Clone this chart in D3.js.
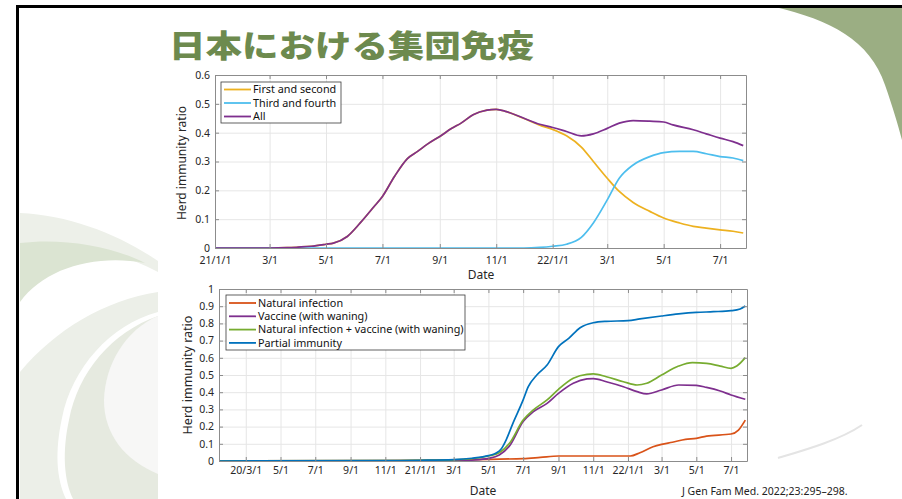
<!DOCTYPE html>
<html><head><meta charset="utf-8">
<script src="https://cdn.jsdelivr.net/npm/d3@7"></script>
<style>body{margin:0;background:#fff;}svg{display:block;}</style>
</head><body><svg id="c" width="902" height="499"></svg>
<script>
// ---------- DATA ----------
const titleText = "日本における集団免疫";
const citation = "J Gen Fam Med. 2022;23:295–298.";

// Top chart
const topTickDates = ["2021-01-01","2021-03-01","2021-05-01","2021-07-01","2021-09-01","2021-11-01","2022-01-01","2022-03-01","2022-05-01","2022-07-01"];
const topTickLabels = ["21/1/1","3/1","5/1","7/1","9/1","11/1","22/1/1","3/1","5/1","7/1"];
const topYTicks = [0,0.1,0.2,0.3,0.4,0.5,0.6];
const topSeriesNames = ["First and second","Third and fourth","All"];

const topAll = [
 ["2021-01-01",0],["2021-03-01",0],["2021-03-20",0.001],["2021-04-01",0.003],["2021-04-15",0.006],
 ["2021-05-01",0.013],["2021-05-09",0.017],["2021-05-24",0.040],["2021-06-07",0.087],["2021-06-22",0.144],
 ["2021-07-01",0.179],["2021-07-14",0.248],["2021-07-28",0.310],["2021-08-08",0.335],["2021-08-19",0.361],
 ["2021-09-01",0.387],["2021-09-14",0.415],["2021-09-24",0.433],["2021-10-07",0.462],["2021-10-22",0.478],
 ["2021-11-01",0.481],["2021-11-12",0.473],["2021-12-01",0.450],["2021-12-18",0.429],["2022-01-01",0.418],
 ["2022-01-16",0.404],["2022-02-01",0.389],["2022-02-14",0.396],["2022-03-01",0.415],["2022-03-14",0.433],
 ["2022-03-29",0.442],["2022-04-16",0.440],["2022-05-01",0.437],["2022-05-11",0.427],["2022-06-02",0.410],
 ["2022-06-16",0.396],["2022-07-01",0.381],["2022-07-15",0.369],["2022-07-26",0.355]
];
const topFirstSecond = [
 ["2021-01-01",0],["2021-03-01",0],["2021-03-20",0.001],["2021-04-01",0.003],["2021-04-15",0.006],
 ["2021-05-01",0.013],["2021-05-09",0.017],["2021-05-24",0.040],["2021-06-07",0.087],["2021-06-22",0.144],
 ["2021-07-01",0.179],["2021-07-14",0.248],["2021-07-28",0.310],["2021-08-08",0.335],["2021-08-19",0.361],
 ["2021-09-01",0.387],["2021-09-14",0.415],["2021-09-24",0.433],["2021-10-07",0.462],["2021-10-22",0.478],
 ["2021-11-01",0.481],["2021-11-12",0.473],["2021-12-01",0.449],["2021-12-18",0.426],["2022-01-01",0.411],
 ["2022-01-16",0.389],["2022-02-01",0.350],["2022-02-14",0.300],["2022-03-01",0.242],["2022-03-14",0.196],
 ["2022-03-29",0.158],["2022-04-16",0.127],["2022-05-01",0.104],["2022-05-18",0.087],["2022-06-02",0.075],
 ["2022-06-16",0.069],["2022-07-01",0.063],["2022-07-15",0.058],["2022-07-26",0.052]
];
const topThirdFourth = [
 ["2021-01-01",0],["2021-12-01",0],["2021-12-18",0.002],["2022-01-01",0.006],["2022-01-16",0.013],
 ["2022-02-01",0.037],["2022-02-14",0.087],["2022-03-01",0.167],["2022-03-14",0.242],["2022-03-29",0.288],
 ["2022-04-16",0.317],["2022-05-01",0.331],["2022-05-18",0.335],["2022-06-02",0.335],["2022-06-16",0.327],
 ["2022-07-01",0.317],["2022-07-15",0.312],["2022-07-26",0.303]
];

// Bottom chart
const botTickDates = ["2020-03-01","2020-05-01","2020-07-01","2020-09-01","2020-11-01","2021-01-01","2021-03-01","2021-05-01","2021-07-01","2021-09-01","2021-11-01","2022-01-01","2022-03-01","2022-05-01","2022-07-01"];
const botTickLabels = ["20/3/1","5/1","7/1","9/1","11/1","21/1/1","3/1","5/1","7/1","9/1","11/1","22/1/1","3/1","5/1","7/1"];
const botYTicks = [0,0.1,0.2,0.3,0.4,0.5,0.6,0.7,0.8,0.9,1];
const botSeriesNames = ["Natural infection","Vaccine (with waning)","Natural infection + vaccine (with waning)","Partial immunity"];

const botNatural = [
 ["2020-01-14",0],["2020-11-01",0.002],["2021-01-01",0.004],["2021-03-01",0.006],["2021-05-01",0.010],
 ["2021-07-01",0.014],["2021-07-31",0.021],["2021-09-01",0.029],["2021-11-01",0.029],["2022-01-05",0.029],
 ["2022-01-22",0.048],["2022-02-14",0.083],["2022-03-01",0.097],["2022-03-20",0.109],["2022-04-12",0.126],
 ["2022-05-01",0.132],["2022-05-19",0.145],["2022-07-01",0.157],["2022-07-14",0.180],["2022-07-26",0.238]
];
const botVaccine = [
 ["2020-01-14",0],["2021-01-01",0],["2021-03-01",0.001],["2021-04-02",0.005],["2021-05-01",0.015],
 ["2021-05-20",0.035],["2021-06-07",0.087],["2021-07-01",0.229],["2021-07-19",0.287],["2021-08-12",0.335],
 ["2021-09-01",0.393],["2021-09-27",0.452],["2021-10-21",0.477],["2021-11-01",0.479],["2021-11-24",0.461],
 ["2021-12-24",0.432],["2022-01-17",0.403],["2022-02-03",0.390],["2022-03-01",0.413],["2022-03-31",0.442],
 ["2022-05-01",0.440],["2022-05-19",0.428],["2022-06-12",0.407],["2022-07-01",0.384],["2022-07-26",0.359]
];
const botCombined = [
 ["2020-01-14",0],["2020-11-01",0.002],["2021-01-01",0.004],["2021-03-01",0.007],["2021-04-02",0.013],
 ["2021-05-01",0.029],["2021-05-20",0.048],["2021-06-07",0.103],["2021-07-01",0.238],["2021-07-19",0.297],
 ["2021-08-12",0.355],["2021-09-01",0.417],["2021-09-27",0.481],["2021-10-21",0.504],["2021-11-01",0.506],
 ["2021-11-24",0.490],["2021-12-24",0.461],["2022-01-17",0.442],["2022-02-03",0.452],["2022-03-01",0.500],
 ["2022-03-31",0.552],["2022-04-24",0.572],["2022-05-19",0.568],["2022-06-12",0.552],["2022-07-01",0.539],
 ["2022-07-11",0.552],["2022-07-26",0.601]
];
const botPartial = [
 ["2020-01-14",0],["2020-11-01",0.002],["2021-01-01",0.004],["2021-03-01",0.008],["2021-04-02",0.016],
 ["2021-05-01",0.031],["2021-05-14",0.045],["2021-05-23",0.068],["2021-06-01",0.122],["2021-06-13",0.219],
 ["2021-07-01",0.355],["2021-07-10",0.432],["2021-07-25",0.500],["2021-08-12",0.558],["2021-09-01",0.665],
 ["2021-09-19",0.713],["2021-10-09",0.775],["2021-11-01",0.804],["2021-11-24",0.812],["2022-01-01",0.816],
 ["2022-01-22",0.826],["2022-03-01",0.843],["2022-03-31",0.855],["2022-05-01",0.864],["2022-05-31",0.868],
 ["2022-07-01",0.874],["2022-07-17",0.884],["2022-07-26",0.901]
];

// ---------- DRAW ----------
const svg = d3.select("#c");
const P = d3.utcParse("%Y-%m-%d");
const FONT = "'Noto Sans CJK JP','Noto Sans',sans-serif";
const TICKFONT = "'Noto Sans',sans-serif";

// decorative slide background
const deco = svg.append("g");
deco.append("path").attr("d","M20,213 C70,215 120,235 158,261 L158,272 C120,252 80,244 20,243 Z").attr("fill","#edf0e9");
deco.append("path").attr("d","M20,243 C60,238 110,245 145,263 C95,254 45,268 20,302 Z").attr("fill","#dbe4d2");
deco.append("path").attr("d","M20,372 C55,330 105,300 158,292 L158,312 C110,325 72,368 62,418 C55,450 56,478 66,499 L20,499 Z").attr("fill","#ecefe8");
deco.append("path").attr("d","M158,316 C112,332 78,372 69,420 C62,452 64,480 73,499 L158,499 Z").attr("fill","#e6eae0");
deco.append("path").attr("d","M158,316 C125,330 105,365 104,400 C104,435 125,460 158,474 Z").attr("fill","#f7f7f6");
deco.append("path").attr("d","M775,7 C830,20 870,40 885,85 C893,108 898,125 902,140 L902,7 Z").attr("fill","#9bae83");
deco.append("path").attr("d","M778,458 C805,450 840,440 862,425").attr("fill","none").attr("stroke","#e4e4e4").attr("stroke-width",2);
// frame
svg.append("path").attr("d","M17.5,499 L17.5,6.5 L902,6.5").attr("fill","none").attr("stroke","#000").attr("stroke-width",3);

// title
svg.append("text").attr("x",169).attr("y",57).attr("transform","translate(0,57) scale(1,0.84) translate(0,-57)")
  .attr("font-family",FONT).attr("font-weight",900).attr("font-size",36.5).attr("fill","#6d8a4e").text(titleText);

// citation
svg.append("text").attr("x",682).attr("y",495).attr("font-family","'Noto Sans',sans-serif").attr("font-size",10.5)
  .attr("fill","#222").text(citation);

function chart(cfg){
  const g = svg.append("g");
  const x = d3.scaleUtc().domain(cfg.xDomain.map(P)).range([cfg.x0,cfg.x1]);
  const y = d3.scaleLinear().domain([0,cfg.yMax]).range([cfg.y1,cfg.y0]);
  const tv = cfg.tickDates.map(P);
  const fmtX = (d,i)=>cfg.tickLabels[i];
  const fmtY = d=> (d===0||d===1)? String(d) : d.toFixed(1);
  const W = cfg.x1-cfg.x0, H = cfg.y1-cfg.y0;
  // grid
  g.append("g").attr("transform",`translate(0,${cfg.y1})`)
    .call(d3.axisBottom(x).tickValues(tv).tickSize(-H).tickFormat(""))
    .call(a=>{a.select(".domain").remove();a.selectAll("line").attr("stroke","#e6e6e6");});
  g.append("g").attr("transform",`translate(${cfg.x0},0)`)
    .call(d3.axisLeft(y).tickValues(cfg.yTicks).tickSize(-W).tickFormat(""))
    .call(a=>{a.select(".domain").remove();a.selectAll("line").attr("stroke","#e6e6e6");});
  // lines
  const line = d3.line().x(d=>x(P(d[0]))).y(d=>y(d[1])).curve(d3.curveMonotoneX);
  cfg.series.forEach((s,i)=>{
    g.append("path").datum(s).attr("d",line).attr("fill","none")
      .attr("stroke",cfg.colors[i]).attr("stroke-width",1.7).attr("stroke-linejoin","round");
  });
  // axes (MATLAB box with inward ticks)
  const axCol = "#8c8c8c", txtCol = "#262626";
  const style = a=>{a.select(".domain").attr("stroke",axCol);a.selectAll(".tick line").attr("stroke",axCol);
    a.selectAll("text").attr("fill",txtCol).attr("font-family",TICKFONT).attr("font-size",cfg.tickFont);};
  g.append("g").attr("transform",`translate(0,${cfg.y1})`)
    .call(d3.axisBottom(x).tickValues(tv).tickFormat(fmtX).tickSizeInner(-4).tickSizeOuter(0).tickPadding(cfg.xPad)).call(style);
  g.append("g").attr("transform",`translate(0,${cfg.y0})`)
    .call(d3.axisTop(x).tickValues(tv).tickFormat("").tickSizeInner(-4).tickSizeOuter(0)).call(style);
  g.append("g").attr("transform",`translate(${cfg.x0},0)`)
    .call(d3.axisLeft(y).tickValues(cfg.yTicks).tickFormat(fmtY).tickSizeInner(-4).tickSizeOuter(0).tickPadding(5)).call(style);
  g.append("g").attr("transform",`translate(${cfg.x1},0)`)
    .call(d3.axisRight(y).tickValues(cfg.yTicks).tickFormat("").tickSizeInner(-4).tickSizeOuter(0)).call(style);
  // axis labels
  g.append("text").attr("x",cfg.dateX).attr("y",cfg.dateY).attr("text-anchor","middle")
    .attr("font-family","'Noto Sans',sans-serif").attr("font-size",cfg.dateFont).attr("fill",txtCol).text("Date");
  g.append("text").attr("transform",`translate(${cfg.ylabX},${cfg.ylabY}) rotate(-90)`).attr("text-anchor","middle")
    .attr("font-family","'Noto Sans',sans-serif").attr("font-size",cfg.labFont).attr("fill",txtCol).text("Herd immunity ratio");
  // legend
  const L = cfg.legend;
  const lg = g.append("g");
  lg.append("rect").attr("x",L.x).attr("y",L.y).attr("width",L.w).attr("height",L.h)
    .attr("fill","#fff").attr("stroke","#3a3a3a").attr("stroke-width",0.8);
  cfg.names.forEach((n,i)=>{
    const yy = L.y + L.first + i*L.step;
    lg.append("line").attr("x1",L.x+3).attr("x2",L.x+30).attr("y1",yy).attr("y2",yy)
      .attr("stroke",cfg.colors[i]).attr("stroke-width",1.8);
    lg.append("text").attr("x",L.x+32).attr("y",yy).attr("dy","0.35em")
      .attr("font-family","'Noto Sans',sans-serif").attr("font-size",L.font).attr("fill","#111").text(n);
  });
}

chart({
  x0:215,x1:746,y0:75,y1:248,yMax:0.6,
  xDomain:["2021-01-01","2022-07-29"],
  tickDates:topTickDates,tickLabels:topTickLabels,yTicks:topYTicks,
  series:[topFirstSecond,topThirdFourth,topAll],
  colors:["#EDB120","#4DBEEE","#7E2F8E"],names:topSeriesNames,
  tickFont:10.5,labFont:12,dateFont:12,xPad:9,dateX:481,dateY:279,ylabX:186,ylabY:163,
  legend:{x:221,y:82,w:120,h:41,first:7.5,step:13.5,font:10.8}
});
chart({
  x0:219,x1:747,y0:289,y1:461,yMax:1,
  xDomain:["2020-01-14","2022-07-29"],
  tickDates:botTickDates,tickLabels:botTickLabels,yTicks:botYTicks,
  series:[botNatural,botVaccine,botCombined,botPartial],
  colors:["#D95319","#7E2F8E","#77AC30","#0072BD"],names:botSeriesNames,
  tickFont:10.5,labFont:12.5,dateFont:12,xPad:6,dateX:483,dateY:494.5,ylabX:192,ylabY:375,
  legend:{x:226,y:295,w:239,h:55,first:8,step:13.3,font:10.8}
});
</script></body></html>
